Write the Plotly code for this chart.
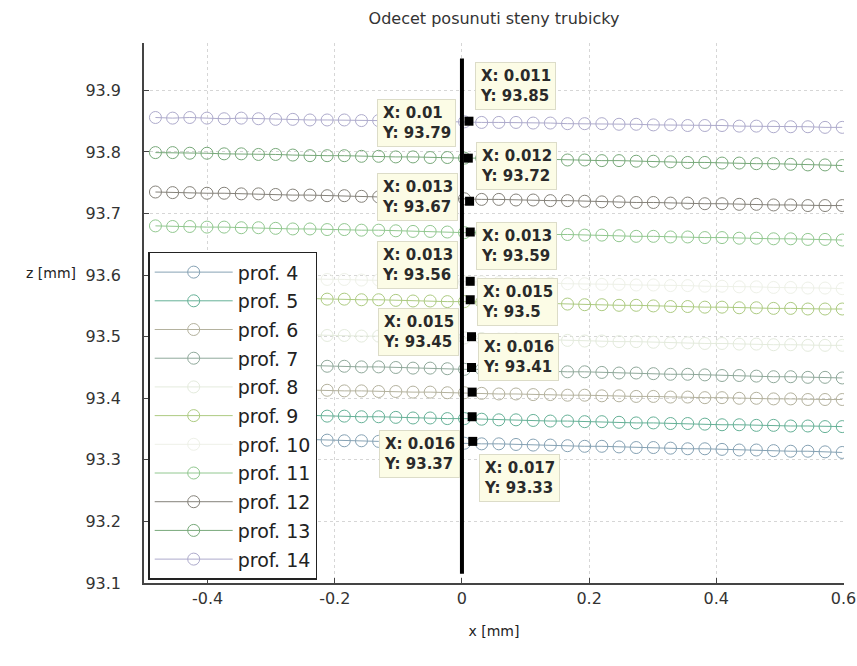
import plotly.graph_objects as go

# ---------------- data ----------------
profiles = ["prof. 4", "prof. 5", "prof. 6", "prof. 7", "prof. 8", "prof. 9",
            "prof. 10", "prof. 11", "prof. 12", "prof. 13", "prof. 14"]

x_mm = [-0.482, -0.455, -0.428, -0.401, -0.374, -0.347, -0.320, -0.293, -0.266, -0.239,
        -0.212, -0.185, -0.158, -0.131, -0.104, -0.077, -0.050, -0.023, 0.004, 0.031,
        0.058, 0.085, 0.112, 0.139, 0.166, 0.193, 0.220, 0.247, 0.274, 0.301,
        0.328, 0.355, 0.382, 0.409, 0.436, 0.463, 0.490, 0.517, 0.544, 0.571,
        0.598]

z_p4 = [93.338, 93.337, 93.337, 93.336, 93.336, 93.335, 93.334, 93.334, 93.333, 93.333,
        93.332, 93.331, 93.331, 93.330, 93.330, 93.329, 93.328, 93.328, 93.327, 93.326,
        93.326, 93.325, 93.324, 93.324, 93.323, 93.322, 93.322, 93.321, 93.320, 93.320,
        93.319, 93.318, 93.318, 93.317, 93.316, 93.316, 93.315, 93.314, 93.314, 93.313,
        93.312]
z_p5 = [93.377, 93.377, 93.376, 93.376, 93.375, 93.374, 93.374, 93.373, 93.373, 93.372,
        93.371, 93.371, 93.370, 93.370, 93.369, 93.368, 93.368, 93.367, 93.367, 93.366,
        93.365, 93.365, 93.364, 93.363, 93.363, 93.362, 93.362, 93.361, 93.360, 93.360,
        93.359, 93.359, 93.358, 93.357, 93.357, 93.356, 93.356, 93.355, 93.355, 93.354,
        93.354]
z_p6 = [93.418, 93.418, 93.417, 93.417, 93.416, 93.416, 93.415, 93.415, 93.414, 93.413,
        93.413, 93.412, 93.412, 93.411, 93.411, 93.410, 93.410, 93.409, 93.409, 93.408,
        93.407, 93.407, 93.406, 93.406, 93.405, 93.405, 93.404, 93.404, 93.403, 93.403,
        93.402, 93.402, 93.401, 93.401, 93.400, 93.400, 93.399, 93.399, 93.398, 93.398,
        93.398]
z_p7 = [93.458, 93.458, 93.457, 93.457, 93.456, 93.455, 93.455, 93.454, 93.454, 93.453,
        93.452, 93.452, 93.451, 93.451, 93.450, 93.449, 93.449, 93.448, 93.447, 93.447,
        93.446, 93.445, 93.445, 93.444, 93.443, 93.443, 93.442, 93.441, 93.441, 93.440,
        93.439, 93.439, 93.438, 93.437, 93.437, 93.436, 93.435, 93.435, 93.434, 93.434,
        93.433]
z_p8 = [93.508, 93.507, 93.507, 93.506, 93.506, 93.505, 93.505, 93.504, 93.503, 93.503,
        93.502, 93.502, 93.501, 93.501, 93.500, 93.499, 93.499, 93.498, 93.498, 93.497,
        93.496, 93.496, 93.495, 93.495, 93.494, 93.493, 93.493, 93.492, 93.492, 93.491,
        93.490, 93.490, 93.489, 93.489, 93.488, 93.488, 93.487, 93.487, 93.486, 93.486,
        93.486]
z_p9 = [93.567, 93.566, 93.566, 93.565, 93.565, 93.564, 93.564, 93.563, 93.562, 93.562,
        93.561, 93.561, 93.560, 93.560, 93.559, 93.558, 93.558, 93.557, 93.557, 93.556,
        93.555, 93.555, 93.554, 93.554, 93.553, 93.552, 93.552, 93.551, 93.551, 93.550,
        93.549, 93.549, 93.548, 93.548, 93.547, 93.547, 93.546, 93.546, 93.545, 93.545,
        93.545]
z_p10 = [93.598, 93.598, 93.597, 93.597, 93.596, 93.596, 93.595, 93.595, 93.594, 93.594,
         93.593, 93.593, 93.592, 93.592, 93.591, 93.591, 93.590, 93.590, 93.589, 93.589,
         93.588, 93.588, 93.587, 93.587, 93.586, 93.586, 93.585, 93.585, 93.584, 93.584,
         93.583, 93.583, 93.582, 93.582, 93.581, 93.581, 93.580, 93.580, 93.579, 93.579,
         93.578]
z_p11 = [93.680, 93.679, 93.679, 93.678, 93.678, 93.677, 93.677, 93.676, 93.675, 93.675,
         93.674, 93.674, 93.673, 93.673, 93.672, 93.671, 93.671, 93.670, 93.669, 93.669,
         93.668, 93.668, 93.667, 93.666, 93.666, 93.665, 93.665, 93.664, 93.663, 93.663,
         93.662, 93.662, 93.661, 93.661, 93.660, 93.660, 93.659, 93.659, 93.658, 93.658,
         93.657]
z_p12 = [93.735, 93.734, 93.734, 93.733, 93.733, 93.732, 93.732, 93.731, 93.730, 93.730,
         93.729, 93.729, 93.728, 93.727, 93.727, 93.726, 93.726, 93.725, 93.724, 93.723,
         93.723, 93.722, 93.722, 93.721, 93.721, 93.720, 93.719, 93.719, 93.718, 93.718,
         93.717, 93.717, 93.716, 93.716, 93.715, 93.715, 93.714, 93.714, 93.713, 93.713,
         93.713]
z_p13 = [93.799, 93.799, 93.798, 93.798, 93.797, 93.797, 93.796, 93.796, 93.795, 93.794,
         93.794, 93.794, 93.793, 93.793, 93.792, 93.792, 93.791, 93.791, 93.790, 93.790,
         93.789, 93.789, 93.788, 93.788, 93.787, 93.787, 93.786, 93.786, 93.785, 93.785,
         93.784, 93.783, 93.783, 93.782, 93.782, 93.781, 93.781, 93.780, 93.779, 93.779,
         93.778]
z_p14 = [93.856, 93.855, 93.856, 93.855, 93.854, 93.855, 93.854, 93.853, 93.853, 93.852,
         93.852, 93.852, 93.851, 93.851, 93.850, 93.851, 93.850, 93.849, 93.849, 93.848,
         93.848, 93.848, 93.847, 93.847, 93.846, 93.846, 93.846, 93.845, 93.845, 93.844,
         93.844, 93.843, 93.843, 93.843, 93.842, 93.842, 93.841, 93.841, 93.841, 93.840,
         93.840]

# wall of the tube (vertical line)
wall_x = [0.0, 0.0]
wall_z = [93.115, 93.952]

# data tips, profile 4 .. 14
tip_x = [0.017, 0.016, 0.016, 0.015, 0.015, 0.013, 0.013, 0.013, 0.012, 0.01, 0.011]
tip_z = [93.33, 93.37, 93.41, 93.45, 93.5, 93.56, 93.59, 93.67, 93.72, 93.79, 93.85]

x_ticks = [-0.4, -0.2, 0, 0.2, 0.4, 0.6]
x_tick_text = ["-0.4", "-0.2", "0", "0.2", "0.4", "0.6"]
z_ticks = [93.1, 93.2, 93.3, 93.4, 93.5, 93.6, 93.7, 93.8, 93.9]
z_tick_text = ["93.1", "93.2", "93.3", "93.4", "93.5", "93.6", "93.7", "93.8", "93.9"]

# ---------------- style ----------------
series = [z_p4, z_p5, z_p6, z_p7, z_p8, z_p9, z_p10, z_p11, z_p12, z_p13, z_p14]
colors = ["#86a2b4", "#66b197", "#b4b29e", "#90a99b", "#e4ebdd", "#adcb82",
          "#eef1e8", "#92c890", "#85827a", "#78a97a", "#aeabcc"]
# placement of data tip boxes: (side, above)
tip_place = [("R", False), ("L", False), ("R", True), ("L", True), ("R", True),
             ("L", True), ("R", True), ("L", True), ("R", True), ("L", True), ("R", True)]

FONT = "DejaVu Sans"
fig = go.Figure()

for name, z, c in zip(profiles, series, colors):
    fig.add_trace(go.Scatter(
        x=x_mm, y=z, name=name, mode="lines+markers", legendgroup=name,
        line=dict(color=c, width=1),
        marker=dict(symbol="circle-open", size=12, color=c, line=dict(width=1, color=c)),
        hoverinfo="skip"))

fig.add_trace(go.Scatter(x=wall_x, y=wall_z, mode="lines", showlegend=False,
                         line=dict(color="black", width=4), hoverinfo="skip"))
fig.add_trace(go.Scatter(x=tip_x, y=tip_z, mode="markers", showlegend=False,
                         marker=dict(symbol="square", size=9, color="black"),
                         hoverinfo="skip"))

for tx, tz, (side, above) in zip(tip_x, tip_z, tip_place):
    fig.add_annotation(
        x=tx, y=tz, xref="x", yref="y", showarrow=False,
        text=f"X: {tx:g}<br>Y: {tz:g}", align="left",
        xanchor="left" if side == "R" else "right",
        xshift=6 if side == "R" else -12,
        yanchor="middle", yshift=35 if above else -37,
        font=dict(family=FONT, size=15, color="#2a2a2a", weight="bold"),
        bgcolor="#fcfce6", bordercolor="#dcdcc8", borderwidth=1, borderpad=4)

# y-axis label (horizontal, as in MATLAB)
fig.add_annotation(text="z [mm]", xref="paper", yref="paper", x=-0.133, y=0.574,
                   showarrow=False, xanchor="center", yanchor="middle",
                   font=dict(family=FONT, size=14, color="#222"))

fig.update_layout(
    width=857, height=666,
    margin=dict(l=144, r=13, t=43, b=83, autoexpand=False),
    paper_bgcolor="white", plot_bgcolor="white",
    title=dict(text="Odecet posunuti steny trubicky", x=0.5, xref="paper",
               y=1 - 18 / 666, yanchor="middle",
               font=dict(family=FONT, size=16, color="#333")),
    showlegend=True,
    legend=dict(x=0.006, y=0.006, xanchor="left", yanchor="bottom",
                bgcolor="white", bordercolor="#222", borderwidth=1.5,
                font=dict(family=FONT, size=19, color="#222"),
                itemwidth=78, tracegroupgap=1, traceorder="grouped"),
    xaxis=dict(range=[-0.5, 0.6008], tickvals=x_ticks, ticktext=x_tick_text,
               automargin=False,
               showgrid=True, gridcolor="#d6d6d6", griddash="dot", gridwidth=1,
               zeroline=False, showline=True, linecolor="#444", linewidth=1.5,
               ticks="inside", ticklen=5, tickcolor="#444", ticklabeloverflow="allow",
               tickfont=dict(family=FONT, size=16, color="#333"),
               title=dict(text="x [mm]", standoff=19,
                          font=dict(family=FONT, size=14, color="#222"))),
    yaxis=dict(range=[93.1, 93.977], tickvals=z_ticks, ticktext=z_tick_text,
               automargin=False,
               showgrid=True, gridcolor="#d6d6d6", griddash="dot", gridwidth=1,
               zeroline=False, showline=True, linecolor="#444", linewidth=1.5,
               ticks="inside", ticklen=5, tickcolor="#444", ticklabelstandoff=18,
               tickfont=dict(family=FONT, size=16, color="#333")),
)

fig.write_html("out.html")
